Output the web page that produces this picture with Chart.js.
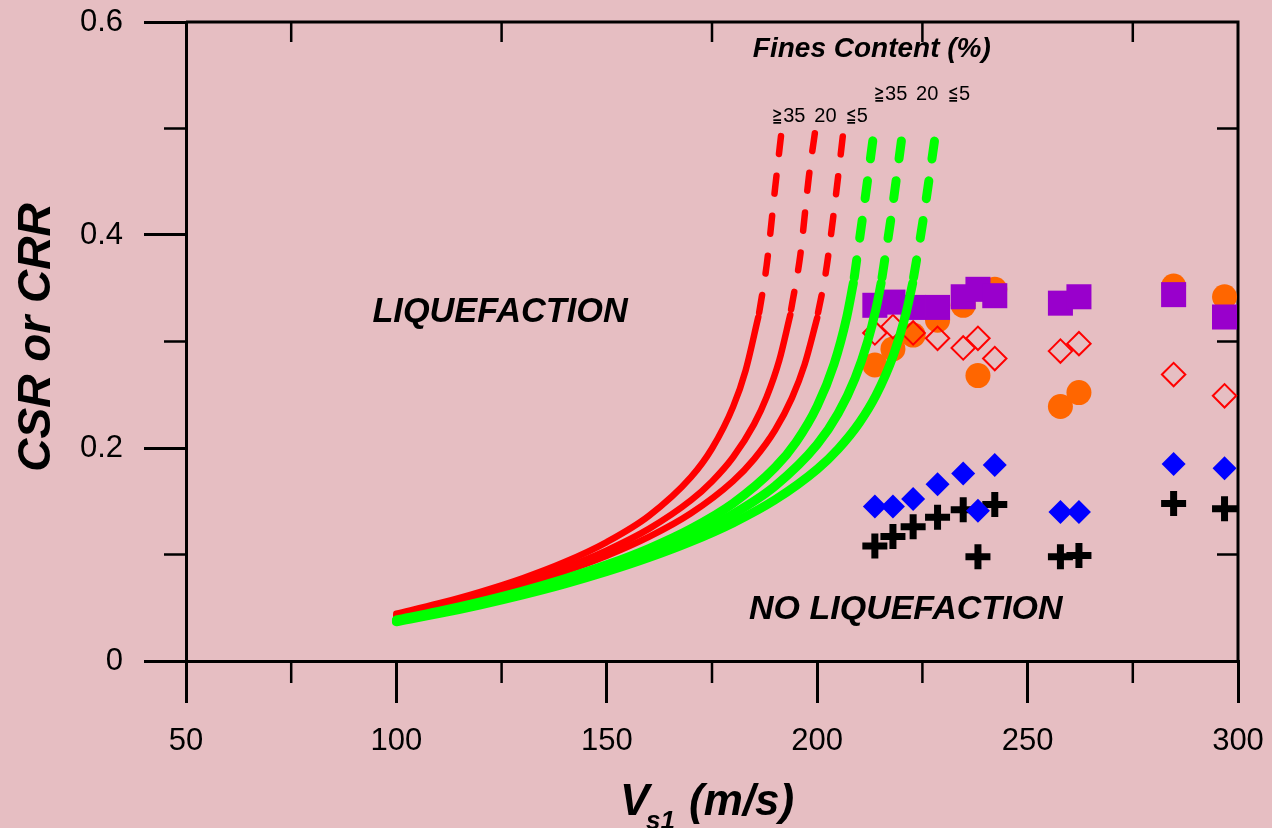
<!DOCTYPE html>
<html>
<head>
<meta charset="utf-8">
<title>CSR or CRR vs Vs1</title>
<script src="https://cdn.jsdelivr.net/npm/chart.js@4.4.0/dist/chart.umd.min.js"></script>
<style>
  html, body { margin: 0; padding: 0; background: #e6bec2; }
  #wrap { width: 1272px; height: 828px; }
</style>
</head>
<body>
<div id="wrap"><canvas id="chartCrr" width="1272" height="828"></canvas></div>
<script>
// Site data: normalised shear wave velocity and cyclic stress ratios
const vsSites = [213.7, 218.0, 222.8, 228.6, 234.7, 238.2, 242.2, 257.8, 262.2, 284.7, 296.8];
const csrSquares = [0.334, 0.337, 0.332, 0.332, 0.342, 0.349, 0.343, 0.336, 0.342, 0.344, 0.323];
const csrCircles = [0.278, 0.293, 0.306, 0.320, 0.334, 0.268, 0.349, 0.239, 0.252, 0.352, 0.342];
const csrOpenDiamonds = [0.308, 0.314, 0.308, 0.303, 0.294, 0.303, 0.284, 0.291, 0.298, 0.269, 0.249];
const csrDiamonds = [0.145, 0.145, 0.152, 0.166, 0.176, 0.141, 0.184, 0.140, 0.140, 0.185, 0.181];
const csrCrosses = [0.108, 0.117, 0.126, 0.135, 0.142, 0.098, 0.147, 0.098, 0.099, 0.148, 0.143];

// CRR boundary curves [Vs1, CRR], solid part and dashed extension
const redFc35Solid = [[100, 0.0444], [110, 0.0540], [120, 0.0650], [130, 0.0777], [140, 0.0929], [150, 0.1117], [160, 0.1363], [170, 0.1726], [175, 0.1995], [180, 0.2386], [183, 0.2730], [186, 0.3230]];
const redFc35Dash = [[186.2, 0.327], [188, 0.3719], [190, 0.4442], [191.6, 0.50]];
const redFc20Solid = [[100, 0.0428], [110, 0.0519], [120, 0.0622], [130, 0.0740], [140, 0.0876], [150, 0.1039], [160, 0.1241], [170, 0.1509], [175, 0.1686], [180, 0.1913], [185, 0.2224], [188, 0.2480], [191, 0.2825], [193.6, 0.325]];
const redFc20Dash = [[193.8, 0.330], [196, 0.3816], [198, 0.4540], [199.6, 0.50]];
const redFc5Solid = [[100, 0.0416], [110, 0.0503], [120, 0.0602], [130, 0.0713], [140, 0.0840], [150, 0.0988], [160, 0.1165], [170, 0.1387], [180, 0.1689], [185, 0.1896], [190, 0.2169], [194, 0.2471], [197, 0.2783], [200, 0.3222]];
const redFc5Dash = [[200.2, 0.327], [202, 0.3638], [204, 0.4229], [206.3, 0.50]];

const greenFc35Solid = [[100, 0.0386], [110, 0.0466], [120, 0.0556], [130, 0.0657], [140, 0.0772], [150, 0.0903], [160, 0.1056], [170, 0.1242], [180, 0.1480], [190, 0.1817], [195, 0.2057], [200, 0.2393], [204, 0.2788], [207, 0.3226], [208.6, 0.355]];
const greenFc35Dash = [[208.8, 0.360], [211, 0.4230], [213.6, 0.50]];
const greenFc20Solid = [[100, 0.0377], [110, 0.0455], [120, 0.0542], [130, 0.0639], [140, 0.0747], [150, 0.0870], [160, 0.1011], [170, 0.1177], [180, 0.1380], [190, 0.1644], [200, 0.2034], [205, 0.2326], [209, 0.2655], [212, 0.3002], [214, 0.3313], [215.2, 0.355]];
const greenFc20Dash = [[215.4, 0.360], [217.5, 0.4149], [220.4, 0.50]];
const greenFc5Solid = [[100, 0.0368], [110, 0.0444], [120, 0.0528], [130, 0.0621], [140, 0.0724], [150, 0.0840], [160, 0.0971], [170, 0.1121], [180, 0.1297], [190, 0.1514], [200, 0.1801], [205, 0.1991], [210, 0.2236], [214, 0.2497], [218, 0.2859], [221, 0.3248], [222.7, 0.355]];
const greenFc5Dash = [[222.9, 0.360], [225, 0.4098], [228.3, 0.50]];

// Axis ticks
const xTickValues = [50, 100, 150, 200, 250, 300];
const xMinorTicks = [75, 125, 175, 225, 275];
const yTickValues = [0, 0.2, 0.4, 0.6];
const yTickLabels = ['0', '0.2', '0.4', '0.6'];
const yMinorTicks = [0.1, 0.3, 0.5];

// Fines content labels over the curve tops: [symbol, number]
const finesLabels = [['\u2267', '35'], ['', '20'], ['\u2266', '5']];
const finesRedVs = [189.3, 199.3, 206.8];
const finesGreenVs = [213.5, 223.5, 231.1];

const FONT = '"Liberation Sans", Arial, sans-serif';

const toXY = pairs => pairs.map(p => ({ x: p[0], y: p[1] }));
const sitePoints = vals => vsSites.map((v, i) => ({ x: v, y: vals[i] }));

function curve(pairs, color, width, dashed) {
    return {
        data: toXY(pairs),
        showLine: true,
        borderColor: color,
        borderWidth: width,
        borderDash: dashed ? [18, 22] : [],
        borderCapStyle: 'round',
        cubicInterpolationMode: 'monotone',
        pointRadius: 0,
        fill: false
    };
}

// keep the plot box fixed, labels may overhang the edges
function fixScaleBox(scale, size) {
    if (scale.isHorizontal()) scale.height = size; else scale.width = size;
    scale.paddingTop = 0;
    scale.paddingBottom = 0;
    scale.paddingLeft = 0;
    scale.paddingRight = 0;
}

// narrow comparison sign followed by the number
function drawFinesLabel(ctx, label, px, py) {
    const [sym, num] = label;
    let cx = px;
    if (sym) {
        ctx.save();
        ctx.translate(px, py);
        ctx.scale(0.62, 1);
        ctx.fillText(sym, 0, 0);
        ctx.restore();
        cx += 11;
    }
    ctx.fillText(num, cx, py);
}

// Frame, minor ticks and all free text
const frameAndText = {
    id: 'frameAndText',
    beforeDraw(chart) {
        const ctx = chart.ctx;
        ctx.save();
        ctx.fillStyle = '#e6bec2';
        ctx.fillRect(0, 0, chart.width, chart.height);
        ctx.restore();
    },
    beforeDatasetsDraw(chart) {
        const { ctx, chartArea: a, scales: { x, y } } = chart;
        ctx.save();
        ctx.strokeStyle = '#000';
        ctx.lineWidth = 3;
        ctx.beginPath();
        ctx.moveTo(a.left, a.top);
        ctx.lineTo(a.right, a.top);
        ctx.lineTo(a.right, a.bottom);
        ctx.stroke();

        ctx.lineWidth = 2.5;
        ctx.beginPath();
        xMinorTicks.forEach(v => {
            const px = x.getPixelForValue(v);
            ctx.moveTo(px, a.bottom);
            ctx.lineTo(px, a.bottom + 22);
            ctx.moveTo(px, a.top);
            ctx.lineTo(px, a.top + 20);
        });
        yMinorTicks.forEach(v => {
            const py = y.getPixelForValue(v);
            ctx.moveTo(a.left - 22, py);
            ctx.lineTo(a.left, py);
            ctx.moveTo(a.right - 21, py);
            ctx.lineTo(a.right, py);
        });
        ctx.stroke();
        ctx.restore();
    },
    afterDatasetsDraw(chart) {
        const { ctx, scales: { x, y } } = chart;
        ctx.save();
        ctx.fillStyle = '#000';
        ctx.textAlign = 'left';
        ctx.textBaseline = 'alphabetic';

        ctx.font = 'italic bold 34.3px ' + FONT;
        ctx.fillText('LIQUEFACTION', x.getPixelForValue(94.3), y.getPixelForValue(0.318));
        ctx.font = 'italic bold 34px ' + FONT;
        ctx.fillText('NO LIQUEFACTION', x.getPixelForValue(183.8), y.getPixelForValue(0.039));

        ctx.font = 'italic bold 28px ' + FONT;
        ctx.fillText('Fines Content (%)', x.getPixelForValue(184.7), y.getPixelForValue(0.5675));

        ctx.font = '20px ' + FONT;
        finesLabels.forEach((lab, i) => {
            drawFinesLabel(ctx, lab, x.getPixelForValue(finesRedVs[i]), y.getPixelForValue(0.5064));
            drawFinesLabel(ctx, lab, x.getPixelForValue(finesGreenVs[i]), y.getPixelForValue(0.5268));
        });

        // x axis title with subscript
        ctx.font = 'italic bold 44px ' + FONT;
        ctx.fillText('V', 620, 815);
        ctx.fillText('(m/s)', 689, 815);
        ctx.font = 'italic bold 26px ' + FONT;
        ctx.fillText('s1', 646, 829);

        // y axis title
        ctx.translate(50, 337.5);
        ctx.rotate(-Math.PI / 2);
        ctx.textAlign = 'center';
        ctx.font = 'italic bold 46px ' + FONT;
        ctx.fillText('CSR or CRR', 0, 0);
        ctx.restore();
    }
};

const chartCrr = new Chart(document.getElementById('chartCrr').getContext('2d'), {
    type: 'scatter',
    data: {
        datasets: [
            curve(greenFc5Solid, '#00ff00', 9, false),
            curve(greenFc5Dash, '#00ff00', 9, true),
            curve(greenFc20Solid, '#00ff00', 9, false),
            curve(greenFc20Dash, '#00ff00', 9, true),
            curve(greenFc35Solid, '#00ff00', 9, false),
            curve(greenFc35Dash, '#00ff00', 9, true),
            curve(redFc5Solid, '#ff0000', 6.5, false),
            curve(redFc5Dash, '#ff0000', 6.5, true),
            curve(redFc20Solid, '#ff0000', 6.5, false),
            curve(redFc20Dash, '#ff0000', 6.5, true),
            curve(redFc35Solid, '#ff0000', 6.5, false),
            curve(redFc35Dash, '#ff0000', 6.5, true),
            {
                data: sitePoints(csrDiamonds),
                pointStyle: 'rectRot', pointRadius: 12,
                backgroundColor: '#0000ff', borderColor: '#0000ff', borderWidth: 0
            },
            {
                data: sitePoints(csrCrosses),
                pointStyle: 'cross', pointRadius: 12.5,
                borderColor: '#000000', borderWidth: 7
            },
            {
                data: sitePoints(csrSquares),
                pointStyle: 'rect', pointRadius: 17.7,
                backgroundColor: '#9900cc', borderColor: '#9900cc', borderWidth: 0
            },
            {
                data: sitePoints(csrOpenDiamonds),
                pointStyle: 'rectRot', pointRadius: 11.7,
                backgroundColor: 'rgba(0,0,0,0)', borderColor: '#ff0000', borderWidth: 2
            },
            {
                data: sitePoints(csrCircles),
                pointStyle: 'circle', pointRadius: 12.5,
                backgroundColor: '#ff6600', borderColor: '#ff6600', borderWidth: 0
            }
        ]
    },
    options: {
        responsive: false,
        animation: false,
        devicePixelRatio: 1,
        layout: { padding: { left: 0, right: 34, top: 22, bottom: 0 } },
        plugins: {
            legend: { display: false },
            tooltip: { enabled: false },
            title: { display: false }
        },
        scales: {
            x: {
                type: 'linear',
                min: 50,
                max: 300,
                afterBuildTicks: scale => { scale.ticks = xTickValues.map(v => ({ value: v })); },
                afterFit: scale => fixScaleBox(scale, 167),
                ticks: {
                    color: '#000',
                    font: { family: FONT, size: 31 },
                    padding: 20,
                    maxRotation: 0,
                    autoSkip: false
                },
                grid: { drawOnChartArea: false, drawTicks: true, tickLength: 42, color: '#000', lineWidth: 3 },
                border: { display: true, color: '#000', width: 3 }
            },
            y: {
                type: 'linear',
                min: 0,
                max: 0.6,
                afterBuildTicks: scale => { scale.ticks = yTickValues.map(v => ({ value: v })); },
                afterFit: scale => fixScaleBox(scale, 186),
                ticks: {
                    color: '#000',
                    font: { family: FONT, size: 31 },
                    padding: 21,
                    autoSkip: false,
                    callback: (value, index) => yTickLabels[index]
                },
                grid: { drawOnChartArea: false, drawTicks: true, tickLength: 42, color: '#000', lineWidth: 3 },
                border: { display: true, color: '#000', width: 3 }
            }
        }
    },
    plugins: [frameAndText]
});
</script>
</body>
</html>
